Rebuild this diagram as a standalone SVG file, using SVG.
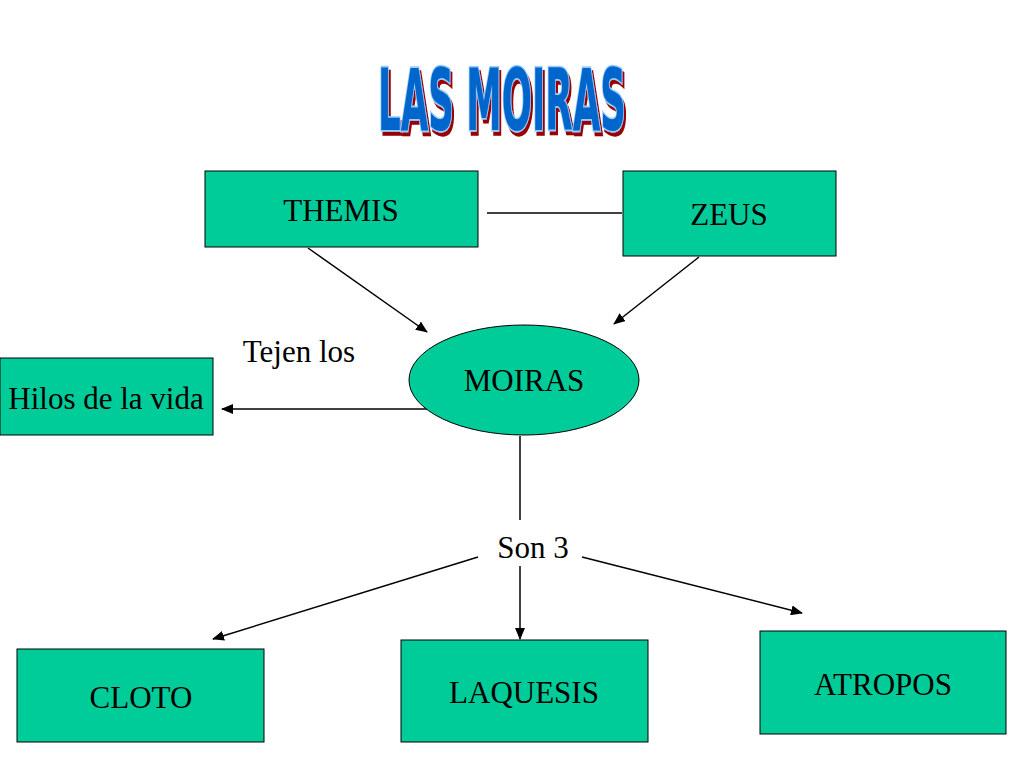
<svg xmlns="http://www.w3.org/2000/svg" width="1024" height="768" viewBox="0 0 1024 768">
<defs>
<marker id="a" markerWidth="12" markerHeight="10" refX="11" refY="5" orient="auto" markerUnits="userSpaceOnUse"><path d="M0,0 L12,5 L0,10 z" fill="#000"/></marker>
<filter id="sh" x="-10%" y="-20%" width="130%" height="150%"><feFlood flood-color="#990000"/><feComposite in2="SourceAlpha" operator="in"/><feOffset dx="4" dy="3" result="s"/><feMerge><feMergeNode in="s"/><feMergeNode in="SourceGraphic"/></feMerge></filter>
<style>
.b{fill:#00CC99;stroke:#000;stroke-width:1}
.t{font-family:"Liberation Serif",serif;font-size:31px;fill:#000}
.c{stroke:#000;stroke-width:1.5;fill:none}
.h{font-family:"DejaVu Sans Condensed","Liberation Sans",sans-serif;font-weight:bold;font-size:66px}
</style>
</defs>
<rect width="1024" height="768" fill="#fff"/>
<g id="title" transform="translate(502,130) scale(0.6,1.3)">
<text class="h" x="0" y="0" text-anchor="middle" fill="#0066CC" stroke="#99CCFF" stroke-width="2.5" paint-order="stroke" filter="url(#sh)">LAS MOIRAS</text>
</g>
<g id="connectors">
<line class="c" x1="487" y1="213" x2="622" y2="213"/>
<line class="c" x1="308" y1="248" x2="427" y2="332" marker-end="url(#a)"/>
<line class="c" x1="699" y1="257" x2="614" y2="324" marker-end="url(#a)"/>
<line class="c" x1="443" y1="409" x2="222" y2="409" marker-end="url(#a)"/>
<line class="c" x1="520" y1="436" x2="520" y2="520"/>
<line class="c" x1="520" y1="566" x2="520" y2="639" marker-end="url(#a)"/>
<line class="c" x1="478" y1="557" x2="213" y2="639" marker-end="url(#a)"/>
<line class="c" x1="582" y1="557" x2="802" y2="613" marker-end="url(#a)"/>
</g>
<g id="themis"><rect class="b" x="205" y="171" width="273" height="76"/><text class="t" x="341" y="221" text-anchor="middle">THEMIS</text></g>
<g id="zeus"><rect class="b" x="623" y="171" width="213" height="85"/><text class="t" x="729" y="225" text-anchor="middle">ZEUS</text></g>
<g id="moiras"><ellipse class="b" cx="524" cy="380" rx="115" ry="55"/><text class="t" x="524" y="391" text-anchor="middle">MOIRAS</text></g>
<g id="hilos"><rect class="b" x="0" y="358" width="213" height="77"/><text class="t" x="106" y="409" text-anchor="middle">Hilos de la vida</text></g>
<text class="t" x="299" y="362" text-anchor="middle">Tejen los</text>
<text class="t" x="533" y="558" text-anchor="middle">Son 3</text>
<g id="cloto"><rect class="b" x="17" y="649" width="247" height="93"/><text class="t" x="141" y="708" text-anchor="middle">CLOTO</text></g>
<g id="laquesis"><rect class="b" x="401" y="640" width="247" height="102"/><text class="t" x="524" y="703" text-anchor="middle">LAQUESIS</text></g>
<g id="atropos"><rect class="b" x="760" y="631" width="246" height="103"/><text class="t" x="883" y="695" text-anchor="middle">ATROPOS</text></g>
</svg>
